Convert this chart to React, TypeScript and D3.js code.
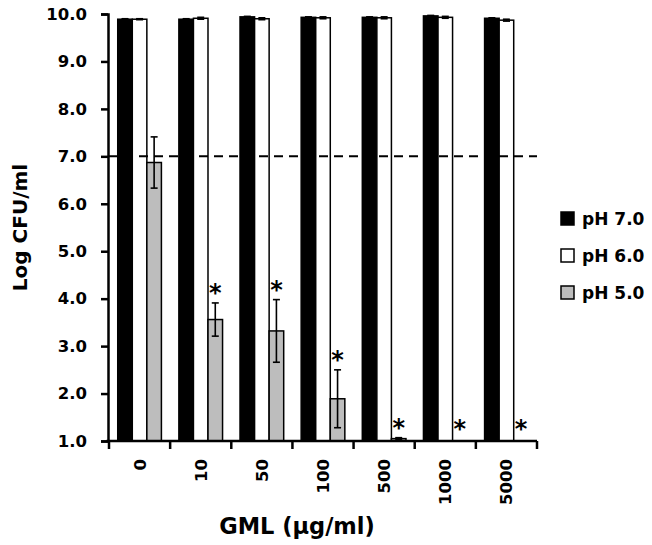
import { useEffect, useRef } from "react";
import * as d3 from "d3";

const WIDTH = 652;
const HEIGHT = 545;
const MARGIN = { top: 14, right: 115, bottom: 104, left: 109 };
const FONT = "'DejaVu Sans', sans-serif";

// GML concentrations (µg/ml)
const categories = ["0", "10", "50", "100", "500", "1000", "5000"];
const seriesNames = ["pH 7.0", "pH 6.0", "pH 5.0"];
const seriesColors = ["#000000", "#ffffff", "#bdbdbd"];

// mean log CFU/ml per series
const ph70 = [9.89, 9.89, 9.94, 9.93, 9.93, 9.96, 9.91];
const ph60 = [9.89, 9.91, 9.9, 9.92, 9.92, 9.93, 9.87];
const ph50 = [6.87, 3.56, 3.32, 1.89, 1.05, 1.0, 1.0];

// error bar half-widths
const ph70Err = [0.01, 0.01, 0.01, 0.01, 0.01, 0.01, 0.01];
const ph60Err = [0.01, 0.02, 0.02, 0.02, 0.02, 0.02, 0.02];
const ph50Err = [0.54, 0.35, 0.66, 0.61, 0.02, 0, 0];

// significance markers for pH 5.0
const significant = [false, true, true, true, true, true, true];

const yTicks = [1, 2, 3, 4, 5, 6, 7, 8, 9, 10];
const threshold = 7.0;

const App = () => {
  const ref = useRef<SVGSVGElement>(null);

  useEffect(() => {
    const svg = d3.select(ref.current);
    svg.selectAll("*").remove();

    const boundsWidth = WIDTH - MARGIN.left - MARGIN.right;
    const boundsHeight = HEIGHT - MARGIN.top - MARGIN.bottom;

    const values = [ph70, ph60, ph50];
    const errors = [ph70Err, ph60Err, ph50Err];

    const x = d3.scaleBand().domain(categories).range([0, boundsWidth]).padding(0);
    const xSub = d3
      .scaleBand()
      .domain(seriesNames)
      .range([0, x.bandwidth()])
      .paddingOuter(0.6)
      .paddingInner(0);
    const y = d3.scaleLinear().domain([1, 10]).range([boundsHeight, 0]);

    const g = svg
      .append("g")
      .attr("transform", `translate(${MARGIN.left},${MARGIN.top})`);

    // bars
    seriesNames.forEach((s, si) => {
      categories.forEach((c, ci) => {
        const v = values[si][ci];
        if (v <= 1) return;
        g.append("rect")
          .attr("x", x(c)! + xSub(s)!)
          .attr("y", y(v))
          .attr("width", xSub.bandwidth())
          .attr("height", y(1) - y(v))
          .attr("fill", seriesColors[si])
          .attr("stroke", "#000")
          .attr("stroke-width", 1.5);
      });
    });

    // error bars
    seriesNames.forEach((s, si) => {
      categories.forEach((c, ci) => {
        const v = values[si][ci];
        const e = errors[si][ci];
        if (e <= 0) return;
        const cx = x(c)! + xSub(s)! + xSub.bandwidth() / 2;
        const y1 = y(v + e);
        const y0 = y(Math.max(1, v - e));
        const eg = g.append("g").attr("stroke", "#000").attr("stroke-width", 1.6);
        eg.append("line").attr("x1", cx).attr("x2", cx).attr("y1", y1).attr("y2", y0);
        eg.append("line").attr("x1", cx - 3.5).attr("x2", cx + 3.5).attr("y1", y1).attr("y2", y1);
        eg.append("line").attr("x1", cx - 3.5).attr("x2", cx + 3.5).attr("y1", y0).attr("y2", y0);
      });
    });

    // asterisks
    categories.forEach((c, ci) => {
      if (!significant[ci]) return;
      const cx = x(c)! + xSub("pH 5.0")! + xSub.bandwidth() / 2;
      const top = y(ph50[ci] + ph50Err[ci]);
      const cy = Math.min(top - 15, y(1) - 17);
      g.append("text")
        .attr("x", cx)
        .attr("y", cy + 13)
        .attr("text-anchor", "middle")
        .attr("font-family", FONT)
        .attr("font-weight", "bold")
        .attr("font-size", 24)
        .attr("fill", "#000")
        .text("*");
    });

    // dashed threshold
    g.append("line")
      .attr("x1", 0)
      .attr("x2", boundsWidth)
      .attr("y1", y(threshold))
      .attr("y2", y(threshold))
      .attr("stroke", "#000")
      .attr("stroke-width", 2)
      .attr("stroke-dasharray", "9,6");

    // y axis
    const yAxis = g
      .append("g")
      .attr("transform", "translate(-1,0)")
      .call(
        d3
          .axisLeft(y)
          .tickValues(yTicks)
          .tickFormat(d3.format(".1f"))
          .tickSizeOuter(0)
          .tickSize(7)
          .tickPadding(14)
      );
    yAxis.select(".domain").attr("stroke-width", 2.5);
    yAxis.selectAll(".tick line").attr("stroke-width", 2.5);
    yAxis
      .selectAll(".tick text")
      .attr("font-family", FONT)
      .attr("font-weight", "bold")
      .attr("font-size", 16.5)
      .attr("fill", "#000");

    // x axis
    const xAxis = g
      .append("g")
      .attr("transform", `translate(0,${boundsHeight})`)
      .call(d3.axisBottom(x).tickSize(0).tickFormat(() => ""));
    xAxis.select(".domain").attr("stroke-width", 2.5).attr("d", `M-2.5,0H${boundsWidth}`);
    const edges = categories.map((c) => x(c)!).concat([boundsWidth]);
    xAxis
      .selectAll(".edge")
      .data(edges)
      .join("line")
      .attr("x1", (d) => d)
      .attr("x2", (d) => d)
      .attr("y1", 0)
      .attr("y2", 8)
      .attr("stroke", "#000")
      .attr("stroke-width", 2.5);
    xAxis
      .selectAll(".lbl")
      .data(categories)
      .join("text")
      .attr("transform", (d) => `translate(${x(d)! + x.bandwidth() / 2 + 6},18) rotate(-90)`)
      .attr("text-anchor", "end")
      .attr("font-family", FONT)
      .attr("font-weight", "bold")
      .attr("font-size", 16.5)
      .attr("fill", "#000")
      .text((d) => d);

    // axis titles
    svg
      .append("text")
      .attr("transform", `translate(27,${MARGIN.top + boundsHeight / 2}) rotate(-90)`)
      .attr("text-anchor", "middle")
      .attr("font-family", FONT)
      .attr("font-weight", "bold")
      .attr("font-size", 20)
      .attr("fill", "#000")
      .text("Log CFU/ml");

    svg
      .append("text")
      .attr("x", 297)
      .attr("y", 534)
      .attr("text-anchor", "middle")
      .attr("font-family", FONT)
      .attr("font-weight", "bold")
      .attr("font-size", 22.5)
      .attr("fill", "#000")
      .text("GML (µg/ml)");

    // legend
    const legend = svg.append("g").attr("transform", "translate(561,212)");
    seriesNames.forEach((s, i) => {
      const row = legend.append("g").attr("transform", `translate(0,${i * 37})`);
      row
        .append("rect")
        .attr("width", 13)
        .attr("height", 13)
        .attr("fill", seriesColors[i])
        .attr("stroke", "#000")
        .attr("stroke-width", 1.5);
      row
        .append("text")
        .attr("x", 21)
        .attr("y", 13)
        .attr("font-family", FONT)
        .attr("font-weight", "bold")
        .attr("font-size", 17)
        .attr("fill", "#000")
        .text(s);
    });
  }, []);

  return (
    <svg
      ref={ref}
      width={WIDTH}
      height={HEIGHT}
      style={{ display: "block", position: "absolute", left: 0, top: 0, background: "#fff" }}
    />
  );
};

export default App;
